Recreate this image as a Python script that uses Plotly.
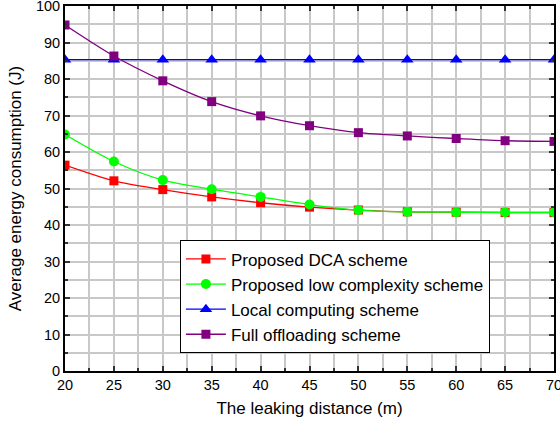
import plotly.graph_objects as go

distance = [20, 25, 30, 35, 40, 45, 50, 55, 60, 65, 70]
dca = [56.4, 52.1, 49.7, 47.7, 46.1, 44.9, 44.1, 43.6, 43.5, 43.4, 43.4]
low_complexity = [64.8, 57.4, 52.3, 49.8, 47.7, 45.6, 44.1, 43.6, 43.5, 43.5, 43.5]
local_computing = [85.3] * 11
full_offloading = [94.8, 86.3, 79.5, 73.8, 69.9, 67.2, 65.3, 64.4, 63.7, 63.1, 62.9]

series = [
    ("Proposed DCA scheme", dca, "#ff0000", "square", 9),
    ("Proposed low complexity scheme", low_complexity, "#00ff00", "circle", 10),
    ("Local computing scheme", local_computing, "#0000ff", "triangle-up", 11),
    ("Full offloading scheme", full_offloading, "#800080", "square", 9),
]

fig = go.Figure()
for name, vals, color, sym, size in series:
    fig.add_trace(go.Scatter(
        x=distance, y=vals, name=name, mode="lines+markers",
        line=dict(color=color, width=1.3, shape="spline", smoothing=0.8),
        marker=dict(color=color, symbol=sym, size=size),
    ))

axis_common = dict(
    showline=True, linecolor="black", linewidth=2, mirror="allticks",
    ticks="inside", ticklen=5, tickwidth=1.5, tickcolor="#333",
    showgrid=True, gridcolor="#c8c8c8", gridwidth=1.5,
    zeroline=False, automargin=False, ticklabeloverflow="allow",
    tickfont=dict(family="Liberation Sans, Arial", size=14.5, color="black"),
    title_font=dict(family="Liberation Sans, Arial", size=17, color="black"),
)

fig.update_xaxes(
    range=[20, 70], tick0=20, dtick=5,
    minor=dict(dtick=2.5, showgrid=True, gridcolor="#c8c8c8", gridwidth=1.5,
               ticks="inside", ticklen=3, tickcolor="#333"),
    title_text="The leaking distance (m)", title_standoff=10,
    **axis_common,
)
fig.update_yaxes(
    range=[0, 100], tick0=0, dtick=10,
    minor=dict(dtick=5, showgrid=True, gridcolor="#c8c8c8", gridwidth=1.5,
               ticks="inside", ticklen=3, tickcolor="#333"),
    title_text="Average energy consumption (J)", title_standoff=10,
    **axis_common,
)

fig.update_layout(
    width=560, height=427,
    margin=dict(l=65, r=6, t=6, b=56),
    plot_bgcolor="white", paper_bgcolor="white",
    font=dict(family="Liberation Sans, Arial", color="black"),
    legend=dict(
        x=0.235, y=0.203, xanchor="left", yanchor="middle",
        bgcolor="white", bordercolor="black", borderwidth=1,
        font=dict(family="Liberation Sans, Arial", size=17, color="black"),
        tracegroupgap=0, itemwidth=40,
    ),
)

fig.write_html(
    "out.html",
    config={"displayModeBar": False},
    post_script="document.body.style.margin='0';document.body.style.overflow='hidden';",
)
